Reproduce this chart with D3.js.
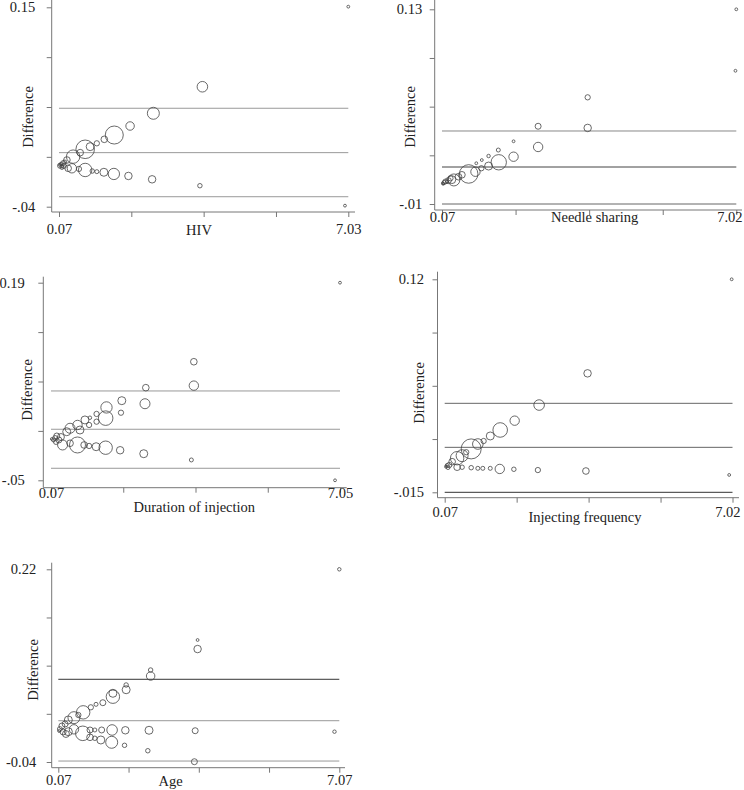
<!DOCTYPE html>
<html>
<head>
<meta charset="utf-8">
<script src="https://cdn.jsdelivr.net/npm/d3@7"></script>
<style>
  html, body { margin: 0; padding: 0; background: #fff; }
  svg { display: block; }
  text { font-family: "Liberation Serif", "Times New Roman", serif; fill: #222; }
</style>
</head>
<body>
<svg id="chart" width="744" height="790"></svg>
<script>
// ---------------- DATA ----------------
// Each point: [x, difference, weight]
const panelTitles = ["HIV", "Needle sharing", "Duration of injection", "Injecting frequency", "Age"];

const hivXDomain = [0.07, 7.03];
const hivYDomain = [-0.04, 0.15];
const hivXTickLabels = ["0.07", "", "", "", "7.03"];
const hivYTickLabels = ["-.04", "", "", "", "0.15"];
const hivLines = [0.0538, 0.0115, -0.0305];
const hivPoints = [
  [7.03, 0.1506, 2], [6.95, -0.039, 2], [3.52, 0.0743, 28], [3.46, -0.020, 5],
  [2.34, 0.049, 36], [2.31, -0.0139, 14], [1.78, 0.0369, 18], [1.74, -0.0107, 14],
  [1.40, 0.0283, 81], [1.39, -0.0088, 32], [1.16, 0.0242, 11], [1.15, -0.0072, 16],
  [0.98, 0.0204, 7], [0.98, -0.0066, 4], [0.82, 0.0172, 16], [0.87, -0.006, 5],
  [0.70, 0.0147, 86], [0.70, -0.005, 45], [0.58, 0.0115, 11], [0.55, -0.004, 7],
  [0.41, 0.0077, 45], [0.38, -0.0034, 22], [0.26, 0.0045, 11], [0.29, -0.0034, 11],
  [0.17, 0.0016, 6], [0.14, -0.0012, 4], [0.12, 0.0007, 3], [0.09, -0.0012, 5],
  [0.19, -0.0012, 6], [0.08, 0.0, 2], [0.21, 0.0026, 4], [0.14, -0.0026, 4]
];

const needleXDomain = [0.07, 7.02];
const needleYDomain = [-0.01, 0.13];
const needleXTickLabels = ["0.07", "", "", "", "7.02"];
const needleYTickLabels = ["-.01", "", "", "", "0.13"];
const needleLines = [0.0425, 0.0166, -0.01];
const needlePoints = [
  [7.02, 0.13, 2], [7.00, 0.0858, 2], [3.51, 0.0667, 7], [3.51, 0.0447, 14],
  [2.34, 0.0459, 9], [2.34, 0.031, 22], [1.76, 0.0351, 2], [1.76, 0.024, 22],
  [1.40, 0.0288, 4], [1.41, 0.020, 59], [1.17, 0.0245, 3], [1.17, 0.0173, 16],
  [1.01, 0.0216, 2], [1.00, 0.0157, 7], [0.88, 0.0193, 2], [0.86, 0.0132, 22],
  [0.70, 0.0116, 86], [0.54, 0.011, 11], [0.46, 0.0096, 11], [0.35, 0.0073, 36],
  [0.27, 0.0085, 7], [0.19, 0.006, 2], [0.09, 0.0049, 2], [0.12, 0.0055, 4],
  [0.15, 0.0062, 6], [0.22, 0.0068, 9], [0.30, 0.0075, 16], [0.10, 0.0045, 2]
];

const durationXDomain = [0.07, 7.05];
const durationYDomain = [-0.05, 0.19];
const durationXTickLabels = ["0.07", "", "", "", "7.05"];
const durationYTickLabels = ["-.05", "", "", "", "0.19"];
const durationLines = [0.0585, 0.012, -0.0354];
const durationPoints = [
  [7.05, 0.19, 2], [6.93, -0.05, 2], [3.52, 0.094, 11], [3.52, 0.065, 22],
  [3.46, -0.0253, 4], [2.36, 0.0625, 11], [2.34, 0.043, 25], [2.31, -0.0177, 16],
  [1.78, 0.0467, 16], [1.76, 0.0321, 7], [1.74, -0.0135, 14], [1.41, 0.0385, 32],
  [1.39, 0.0255, 53], [1.39, -0.0104, 45], [1.17, 0.0306, 7], [1.17, 0.0212, 7],
  [1.16, -0.0092, 16], [1.01, 0.026, 3], [0.99, 0.0172, 7], [0.99, -0.0083, 7],
  [0.89, 0.0233, 16], [0.87, -0.0071, 11], [0.71, 0.0172, 22], [0.71, -0.0071, 64],
  [0.77, 0.0111, 16], [0.53, 0.0132, 25], [0.45, 0.009, 16], [0.35, -0.0071, 25],
  [0.53, -0.005, 11], [0.13, -0.001, 4], [0.17, 0.0014, 6], [0.21, 0.0038, 9],
  [0.19, -0.0035, 6], [0.26, -0.001, 9], [0.31, 0.0026, 12], [0.09, 0.0002, 2]
];

const freqXDomain = [0.07, 7.02];
const freqYDomain = [-0.015, 0.12];
const freqXTickLabels = ["0.07", "", "", "", "7.02"];
const freqYTickLabels = ["-.015", "", "", "", "0.12"];
const freqLines = [0.0414, 0.0135, -0.015];
const freqPoints = [
  [7.00, 0.12, 2], [6.94, -0.004, 2], [3.52, 0.0604, 14], [3.48, -0.0015, 11],
  [2.35, 0.0403, 28], [2.32, -0.0009, 7], [1.76, 0.0304, 22], [1.74, -0.0004, 5],
  [1.41, 0.0245, 53], [1.40, -0.0002, 22], [1.17, 0.0207, 16], [1.17, 0.0002, 4],
  [1.01, 0.0175, 7], [0.99, 0.0002, 4], [0.87, 0.0156, 28], [0.87, 0.0002, 4],
  [0.71, 0.0125, 100], [0.71, 0.0006, 5], [0.59, 0.0104, 7], [0.49, 0.0082, 36],
  [0.49, 0.0009, 5], [0.37, 0.0066, 45], [0.37, 0.0009, 11], [0.25, 0.0044, 11],
  [0.18, 0.0023, 7], [0.10, 0.0012, 2], [0.13, 0.002, 4], [0.15, 0.0007, 4]
];

const ageXDomain = [0.07, 7.07];
const ageYDomain = [-0.04, 0.22];
const ageXTickLabels = ["0.07", "", "", "", "7.07"];
const ageYTickLabels = ["-0.04", "", "", "", "0.22"];
const ageLines = [0.0716, 0.0157, -0.0387];
const agePoints = [
  [7.07, 0.22, 3], [6.95, 0.0009, 3], [3.54, 0.1246, 2], [3.54, 0.1124, 14],
  [3.48, 0.0022, 9], [3.46, -0.0396, 9], [2.37, 0.0841, 5], [2.37, 0.076, 18],
  [2.33, 0.0028, 16], [2.30, -0.0248, 5], [1.76, 0.0639, 5], [1.76, 0.0575, 16],
  [1.74, 0.0028, 14], [1.72, -0.0175, 5], [1.43, 0.0527, 16], [1.43, 0.0481, 45],
  [1.41, 0.0032, 28], [1.40, -0.0134, 36], [1.18, 0.04, 9], [1.15, 0.0032, 9],
  [1.13, -0.0103, 16], [1.01, 0.0378, 4], [0.98, 0.0032, 4], [0.98, -0.008, 5],
  [0.88, 0.0338, 7], [0.86, 0.0032, 9], [0.86, -0.0067, 11], [0.69, 0.027, 45],
  [0.68, -0.0013, 53], [0.57, 0.0234, 7], [0.46, 0.0198, 36], [0.46, 0.0041, 22],
  [0.32, 0.0167, 16], [0.32, 0.0009, 16], [0.11, 0.0045, 6], [0.16, 0.0086, 9],
  [0.19, 0.0005, 9], [0.24, 0.0113, 9], [0.09, 0.0018, 2], [0.26, -0.0022, 12]
];

// ---------------- LAYOUT ----------------
const panels = [
  { title: panelTitles[0], xd: hivXDomain, yd: hivYDomain, xl: hivXTickLabels, yl: hivYTickLabels, lines: hivLines, pts: hivPoints,
    ax: 51.7, x0: 59, x1: 348.3, yTop: 7.3, yBot: 206.7, axisY: 212, yLineTop: 0, xLineEnd: 355,
    xLabOff: 16.5, titleX: 199, titleY: 230, yLabX: 28, yLabY: 117, yPad: 16.5, lastEnd: null,
    lineColors: ["#999", "#999", "#999"] },
  { title: panelTitles[1], xd: needleXDomain, yd: needleYDomain, xl: needleXTickLabels, yl: needleYTickLabels, lines: needleLines, pts: needlePoints,
    ax: 434.7, x0: 442, x1: 736.3, yTop: 9.3, yBot: 204, axisY: 210, yLineTop: 0, xLineEnd: 742,
    xLabOff: 7, titleX: 594.7, titleY: 217, yLabX: 410, yLabY: 117, yPad: 12.5, lastEnd: 742,
    lineColors: ["#888", "#444", "#666"] },
  { title: panelTitles[2], xd: durationXDomain, yd: durationYDomain, xl: durationXTickLabels, yl: durationYTickLabels, lines: durationLines, pts: durationPoints,
    ax: 43.3, x0: 51, x1: 340, yTop: 282.7, yBot: 480.3, axisY: 487.7, yLineTop: 276.7, xLineEnd: 346.7,
    xLabOff: 5, titleX: 194.3, titleY: 507, yLabX: 26.7, yLabY: 390, yPad: 18.5, lastEnd: null,
    lineColors: ["#999", "#999", "#999"] },
  { title: panelTitles[3], xd: freqXDomain, yd: freqYDomain, xl: freqXTickLabels, yl: freqYTickLabels, lines: freqLines, pts: freqPoints,
    ax: 437.5, x0: 444.7, x1: 732.5, yTop: 279.3, yBot: 492.3, axisY: 497.7, yLineTop: 271.7, xLineEnd: 739,
    xLabOff: 14, titleX: 585, titleY: 517, yLabX: 418.7, yLabY: 393, yPad: 13.5, lastEnd: 740,
    lineColors: ["#666", "#666", "#333"] },
  { title: panelTitles[4], xd: ageXDomain, yd: ageYDomain, xl: ageXTickLabels, yl: ageYTickLabels, lines: ageLines, pts: agePoints,
    ax: 51.7, x0: 58.3, x1: 339.3, yTop: 569.3, yBot: 762, axisY: 767.7, yLineTop: 562.7, xLineEnd: 345,
    xLabOff: 12.5, titleX: 170.7, titleY: 781, yLabX: 33.3, yLabY: 670, yPad: 15.5, lastEnd: null,
    lineColors: ["#333", "#999", "#999"] }
];

const svg = d3.select("#chart");
const rScale = d3.scaleSqrt().domain([0, 100]).range([0, 10]);
const axisColor = "#777";
const fontSize = "14.5px";

panels.forEach(p => {
  const g = svg.append("g");
  const x = d3.scaleLinear().domain(p.xd).range([p.x0, p.x1]);
  const y = d3.scaleLinear().domain(p.yd).range([p.yBot, p.yTop]);
  const xTicks = d3.range(5).map(i => p.xd[0] + i * (p.xd[1] - p.xd[0]) / 4);
  const yTicks = d3.range(5).map(i => p.yd[0] + i * (p.yd[1] - p.yd[0]) / 4);

  // reference lines
  g.selectAll("line.ref").data(p.lines).join("line")
    .attr("class", "ref")
    .attr("x1", x(p.xd[0])).attr("x2", x(p.xd[1]))
    .attr("y1", d => y(d)).attr("y2", d => y(d))
    .attr("stroke", (d, i) => p.lineColors[i]).attr("stroke-width", 1);

  // x axis
  const xg = g.append("g").attr("transform", `translate(0,${p.axisY})`)
    .call(d3.axisBottom(x).tickValues(xTicks).tickSize(5).tickFormat((d, i) => p.xl[i]));
  xg.select(".domain").remove();
  xg.selectAll(".tick line").attr("stroke", axisColor);
  xg.selectAll(".tick text").attr("y", p.xLabOff).attr("dy", "0.35em")
    .style("font-size", fontSize).attr("fill", "#222")
    .style("font-family", '"Liberation Serif", serif');
  if (p.lastEnd !== null) {
    xg.selectAll(".tick text").filter((d, i) => i === 4)
      .attr("text-anchor", "end").attr("x", p.lastEnd - x(p.xd[1]));
  }
  g.append("line").attr("x1", p.ax).attr("x2", p.xLineEnd)
    .attr("y1", p.axisY).attr("y2", p.axisY).attr("stroke", axisColor);

  // y axis
  const yg = g.append("g").attr("transform", `translate(${p.ax},0)`)
    .call(d3.axisLeft(y).tickValues(yTicks).tickSize(5).tickPadding(p.yPad - 5).tickFormat((d, i) => p.yl[i]));
  yg.select(".domain").remove();
  yg.selectAll(".tick line").attr("stroke", axisColor);
  yg.selectAll(".tick text").style("font-size", fontSize).attr("fill", "#222")
    .style("font-family", '"Liberation Serif", serif');
  g.append("line").attr("x1", p.ax).attr("x2", p.ax)
    .attr("y1", p.yLineTop).attr("y2", p.axisY).attr("stroke", axisColor);

  // titles
  g.append("text").attr("x", p.titleX).attr("y", p.titleY).attr("dy", "0.35em")
    .attr("text-anchor", "middle").style("font-size", fontSize).text(p.title);
  g.append("text").attr("transform", `translate(${p.yLabX},${p.yLabY}) rotate(-90)`)
    .attr("dy", "0.35em").attr("text-anchor", "middle").style("font-size", fontSize).text("Difference");

  // bubbles
  g.selectAll("circle").data(p.pts).join("circle")
    .attr("cx", d => x(d[0])).attr("cy", d => y(d[1])).attr("r", d => rScale(d[2]))
    .attr("fill", "none").attr("stroke", "#444").attr("stroke-width", 0.8);
});
</script>
</body>
</html>
